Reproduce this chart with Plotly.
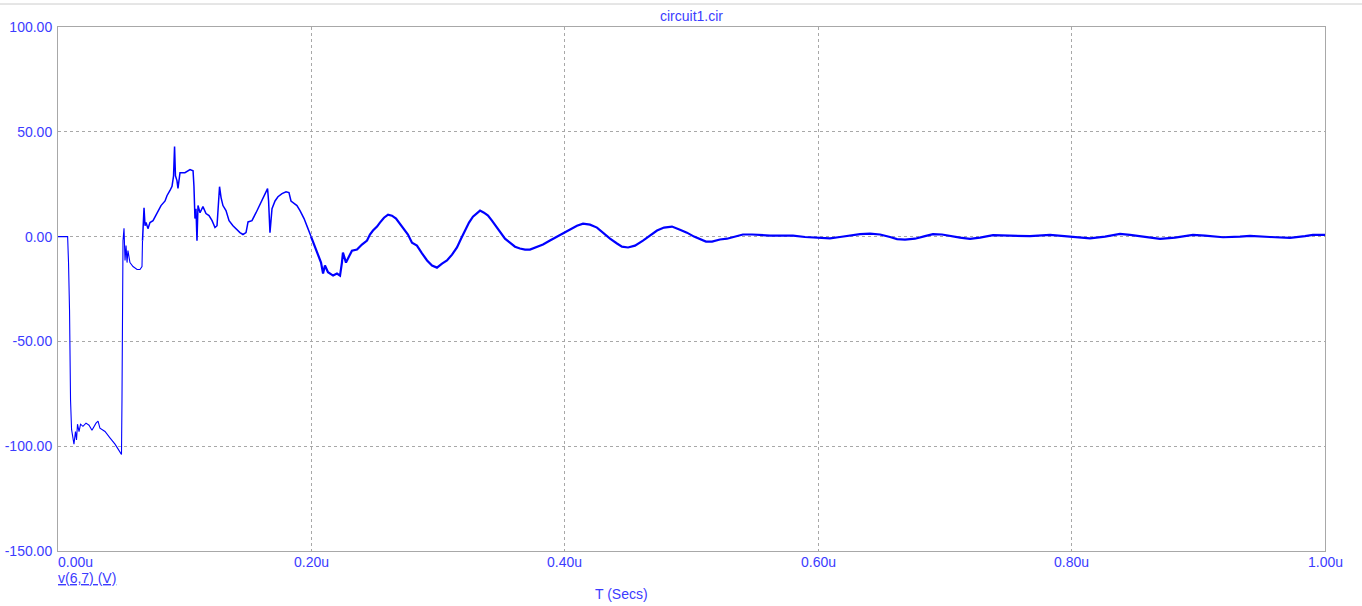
import plotly.graph_objects as go

# time in microseconds, voltage in volts
t_us = [0.0000, 0.0076, 0.0083, 0.0091, 0.0099, 0.0107, 0.0126, 0.0138, 0.0146, 0.0154,
        0.0166, 0.0178, 0.0197, 0.0221, 0.0245, 0.0268, 0.0300, 0.0316, 0.0331, 0.0371,
        0.0410, 0.0450, 0.0481, 0.0501, 0.0505, 0.0509, 0.0513, 0.0521, 0.0529, 0.0537,
        0.0545, 0.0552, 0.0568, 0.0592, 0.0624, 0.0647, 0.0663, 0.0667, 0.0679, 0.0687,
        0.0695, 0.0710, 0.0726, 0.0750, 0.0781, 0.0813, 0.0845, 0.0860, 0.0884, 0.0900,
        0.0912, 0.0920, 0.0927, 0.0939, 0.0947, 0.0963, 0.1002, 0.1042, 0.1066, 0.1073,
        0.1081, 0.1089, 0.1097, 0.1105, 0.1121, 0.1144, 0.1168, 0.1192, 0.1216, 0.1239,
        0.1255, 0.1267, 0.1275, 0.1287, 0.1302, 0.1326, 0.1350, 0.1381, 0.1413, 0.1436,
        0.1460, 0.1484, 0.1500, 0.1531, 0.1563, 0.1594, 0.1626, 0.1654, 0.1662, 0.1673,
        0.1689, 0.1713, 0.1736, 0.1768, 0.1800, 0.1823, 0.1839, 0.1863, 0.1886, 0.1910,
        0.1942, 0.1973, 0.1997, 0.2021, 0.2052, 0.2076, 0.2092, 0.2107, 0.2131, 0.2171,
        0.2202, 0.2226, 0.2241, 0.2249, 0.2273, 0.2289, 0.2320, 0.2360, 0.2399, 0.2439,
        0.2462, 0.2486, 0.2518, 0.2541, 0.2573, 0.2605, 0.2636, 0.2668, 0.2699, 0.2731,
        0.2762, 0.2794, 0.2833, 0.2873, 0.2913, 0.2952, 0.2991, 0.3031, 0.3070, 0.3110,
        0.3149, 0.3181, 0.3212, 0.3244, 0.3275, 0.3307, 0.3331, 0.3362, 0.3394, 0.3425,
        0.3457, 0.3489, 0.3528, 0.3567, 0.3607, 0.3646, 0.3686, 0.3725, 0.3773, 0.3828,
        0.3883, 0.3938, 0.3994, 0.4041, 0.4096, 0.4144, 0.4199, 0.4254, 0.4301, 0.4357,
        0.4412, 0.4451, 0.4499, 0.4554, 0.4617, 0.4672, 0.4728, 0.4783, 0.4846, 0.4909,
        0.4964, 0.5020, 0.5067, 0.5114, 0.5162, 0.5225, 0.5280, 0.5343, 0.5406, 0.5478,
        0.5541, 0.5620, 0.5699, 0.5801, 0.5896, 0.6014, 0.6093, 0.6172, 0.6251, 0.6330,
        0.6409, 0.6488, 0.6567, 0.6622, 0.6685, 0.6764, 0.6843, 0.6906, 0.6977, 0.7040,
        0.7119, 0.7198, 0.7277, 0.7380, 0.7474, 0.7569, 0.7672, 0.7830, 0.7987, 0.8066,
        0.8145, 0.8264, 0.8382, 0.8461, 0.8540, 0.8619, 0.8698, 0.8816, 0.8958, 0.9053,
        0.9195, 0.9329, 0.9408, 0.9566, 0.9724, 0.9842, 0.9905, 1.0000]

v_67 = [0.0, 0.0, -12.4, -35.0, -78.0, -92.0, -99.0, -93.0, -97.0, -89.5,
        -93.0, -89.5, -90.5, -89.0, -90.0, -92.4, -89.0, -88.0, -91.4, -93.0,
        -96.0, -99.0, -102.0, -104.0, -78.0, -25.7, -2.0, 4.0, -11.4, -4.3,
        -12.4, -6.7, -12.4, -14.3, -15.7, -15.7, -14.3, -2.0, 13.8, 5.2,
        6.7, 3.8, 6.7, 7.6, 11.0, 14.8, 17.0, 19.5, 22.0, 24.0,
        29.0, 43.0, 29.0, 26.7, 23.0, 30.5, 30.5, 32.0, 31.4, 24.0,
        8.6, 13.3, -2.0, 14.8, 11.4, 14.3, 11.0, 10.0, 7.6, 4.3,
        5.2, 19.5, 23.8, 18.6, 14.8, 12.4, 7.6, 5.2, 3.3, 1.9,
        1.0, 1.9, 7.0, 7.6, 11.4, 15.2, 19.0, 22.9, 17.0, 1.9,
        13.3, 17.0, 19.0, 20.5, 21.4, 21.0, 17.0, 15.7, 14.8, 12.4,
        8.6, 3.8, 0.0, -3.8, -8.0, -12.4, -17.6, -13.8, -17.0, -18.6,
        -17.6, -18.6, -12.4, -7.6, -12.4, -10.5, -6.7, -6.2, -3.8, -1.9,
        1.0, 2.9, 4.8, 6.7, 9.0, 10.5, 10.0, 8.6, 6.2, 3.3,
        1.0, -2.9, -4.3, -8.0, -11.4, -13.8, -14.8, -12.9, -11.4, -8.6,
        -5.2, -1.0, 2.9, 6.7, 9.5, 11.4, 12.4, 11.4, 10.0, 7.6,
        4.8, 2.4, -1.0, -2.9, -4.8, -5.7, -6.2, -6.2, -5.2, -3.8,
        -1.9, 0.0, 1.9, 3.3, 5.2, 6.2, 5.7, 4.3, 1.9, -1.0,
        -3.3, -4.8, -5.2, -4.3, -1.9, 0.5, 2.9, 4.3, 4.8, 3.3,
        1.9, 0.0, -1.4, -2.4, -2.4, -1.4, -1.0, 0.0, 1.0, 1.0,
        0.7, 0.5, 0.5, 0.5, -0.2, -0.7, -0.8, -0.2, 0.5, 1.2,
        1.4, 1.0, -0.2, -1.2, -1.4, -1.0, 0.2, 1.2, 1.0, 0.2,
        -0.5, -1.1, -0.5, 0.7, 0.5, 0.1, 0.2, 0.8, 0.1, -0.5,
        -0.8, 0.0, 1.3, 0.8, 0.1, -0.6, -1.1, -0.5, 0.8, 0.5,
        -0.3, 0.0, 0.3, -0.2, -0.6, 0.2, 0.8, 0.8]

x_tick_vals = [0.0, 0.2, 0.4, 0.6, 0.8, 1.0]
x_tick_text = ["0.00u", "0.20u", "0.40u", "0.60u", "0.80u", "1.00u"]
y_tick_vals = [-150, -100, -50, 0, 50, 100]
y_tick_text = ["-150.00", "-100.00", "-50.00", "0.00", "50.00", "100.00"]

LABEL_BLUE = "#3c3cff"
TRACE_BLUE = "#0000ff"
GRID = "#a8a8a8"
FONT = "Liberation Sans, Arial, sans-serif"

split1 = 37   # start of the noisier part
split2 = 102  # start of the settled, noisy band

fig = go.Figure()
fig.add_trace(go.Scatter(x=t_us[:split1 + 1], y=v_67[:split1 + 1], mode="lines",
                         line=dict(color=TRACE_BLUE, width=1.1), showlegend=False,
                         hoverinfo="skip"))
fig.add_trace(go.Scatter(x=t_us[split1:split2 + 1], y=v_67[split1:split2 + 1], mode="lines",
                         line=dict(color=TRACE_BLUE, width=1.5), showlegend=False,
                         hoverinfo="skip"))
fig.add_trace(go.Scatter(x=t_us[split2:], y=v_67[split2:], mode="lines",
                         line=dict(color=TRACE_BLUE, width=2.2), showlegend=False,
                         hoverinfo="skip"))

fig.update_layout(
    width=1362, height=606,
    margin=dict(l=58, r=37, t=27, b=55),
    paper_bgcolor="white", plot_bgcolor="white",
    font=dict(family=FONT, size=14, color=LABEL_BLUE),
    showlegend=False,
)
fig.update_xaxes(range=[0, 1.0], tickvals=x_tick_vals, showticklabels=False,
                 showgrid=True, gridcolor=GRID, griddash="3px,3px", gridwidth=1,
                 showline=True, linecolor=GRID, linewidth=1, mirror=True,
                 zeroline=False, ticks="", automargin=False)
fig.update_yaxes(range=[-150, 100], tickvals=y_tick_vals, ticktext=y_tick_text,
                 showgrid=True, gridcolor=GRID, griddash="3px,3px", gridwidth=1,
                 showline=True, linecolor=GRID, linewidth=1, mirror=True,
                 zeroline=False, ticks="", ticklabelstandoff=2, automargin=False,
                 tickfont=dict(family=FONT, size=14, color=LABEL_BLUE))

annotations = []
for i, (tv, tt) in enumerate(zip(x_tick_vals, x_tick_text)):
    anchor = "left" if i == 0 else "center"
    annotations.append(dict(x=tv, y=0, xref="x", yref="paper", text=tt, showarrow=False,
                            xanchor=anchor, yanchor="top", yshift=-1,
                            xshift=-2 if i == 0 else 0,
                            font=dict(family=FONT, size=14, color=LABEL_BLUE)))
annotations.append(dict(x=0.5, y=1, xref="paper", yref="paper", text="circuit1.cir",
                        showarrow=False, xanchor="center", yanchor="bottom", yshift=1,
                        font=dict(family=FONT, size=14, color=LABEL_BLUE)))
annotations.append(dict(x=0, y=0, xref="paper", yref="paper", text="<u>v(6,7) (V)</u>",
                        showarrow=False, xanchor="left", yanchor="top", yshift=-17,
                        xshift=-2,
                        font=dict(family=FONT, size=14, color=LABEL_BLUE)))
annotations.append(dict(x=0.4445, y=0, xref="paper", yref="paper", text="T (Secs)",
                        showarrow=False, xanchor="center", yanchor="top", yshift=-33,
                        font=dict(family=FONT, size=14, color=LABEL_BLUE)))
fig.update_layout(annotations=annotations)

fig.add_shape(type="line", xref="paper", yref="paper",
              x0=-58 / 1267, x1=(1362 - 58) / 1267,
              y0=(551 - 4) / 524, y1=(551 - 4) / 524,
              line=dict(color="#cccccc", width=1))

fig.write_html("out.html", config={"displayModeBar": False},
               post_script="document.body.style.margin='0';document.body.style.overflow='hidden';")
